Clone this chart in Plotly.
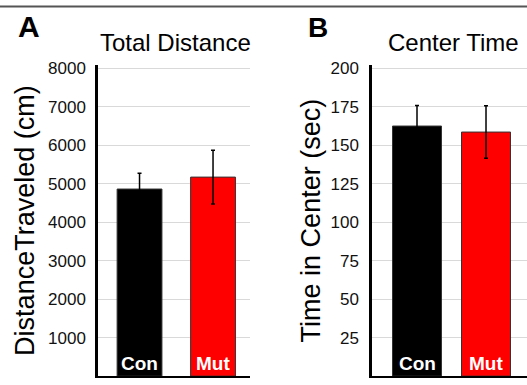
import plotly.graph_objects as go

groups = ["Con", "Mut"]
distance_mean = [4860, 5170]
distance_err = [410, 700]
center_mean = [162.4, 158.5]
center_err = [13.4, 17.0]
bar_colors = ["#000000", "#ff0000"]
distance_ticks = [1000, 2000, 3000, 4000, 5000, 6000, 7000, 8000]
center_ticks = [25, 50, 75, 100, 125, 150, 175, 200]

W, H = 527, 385
FONT = "Liberation Sans, Arial, sans-serif"

fig = go.Figure()
fig.add_trace(go.Bar(x=groups, y=distance_mean, marker=dict(color=bar_colors, line=dict(color="#333", width=1)),
                     width=0.61,
                     error_y=dict(type="data", array=distance_err, color="#000", thickness=1.5, width=2),
                     xaxis="x", yaxis="y", showlegend=False))
fig.add_trace(go.Bar(x=groups, y=center_mean, marker=dict(color=bar_colors, line=dict(color="#333", width=1)),
                     width=0.71,
                     error_y=dict(type="data", array=center_err, color="#000", thickness=1.5, width=2),
                     xaxis="x2", yaxis="y2", showlegend=False))

def py(p):
    return (H - p) / H

def px(p):
    return p / W

ax_common = dict(showgrid=False, showline=True, linecolor="#000", linewidth=2, ticks="",
                 showticklabels=False, fixedrange=True)
fig.update_layout(
    width=W, height=H, margin=dict(l=0, r=0, t=0, b=0),
    paper_bgcolor="white", plot_bgcolor="white",
    font=dict(family=FONT, color="#111"),
    xaxis=dict(domain=[px(98), px(250)], range=[-0.565, 1.503], anchor="y", **ax_common),
    yaxis=dict(domain=[py(376), py(60)], range=[0, 8080], anchor="x",
               showline=True, linecolor="#000", linewidth=2.5, ticks="",
               tickvals=distance_ticks, ticktext=[str(t) for t in distance_ticks],
               tickfont=dict(size=17, color="#111", family=FONT),
               showgrid=True, gridcolor="#d9d9d9", gridwidth=1, zeroline=False,
               ticklabelstandoff=6,
               title=dict(text="DistanceTraveled (cm)", font=dict(size=27, color="#000", family=FONT), standoff=6)),
    xaxis2=dict(domain=[px(372), 1.0], range=[-0.652, 1.594], anchor="y2", **ax_common),
    yaxis2=dict(domain=[py(376), py(60)], range=[0, 202], anchor="x2",
                showline=True, linecolor="#000", linewidth=2.5, ticks="",
                tickvals=center_ticks, ticktext=[str(t) for t in center_ticks],
                tickfont=dict(size=17, color="#111", family=FONT),
                showgrid=True, gridcolor="#d9d9d9", gridwidth=1, zeroline=False,
                ticklabelstandoff=7,
                title=dict(text="Time in Center (sec)", font=dict(size=27, color="#000", family=FONT), standoff=3)),
)

ann = []
for xa, ya in [("x", "y"), ("x2", "y2")]:
    for g in groups:
        ann.append(dict(x=g, y=0, xref=xa, yref=ya, text="<b>%s</b>" % g, showarrow=False,
                        yanchor="bottom", yshift=0, font=dict(size=19, color="white", family=FONT)))
ann.append(dict(x=px(175), y=py(37), xref="paper", yref="paper", text="Total Distance", showarrow=False,
                font=dict(size=24, color="#000", family=FONT), xanchor="center", yanchor="middle"))
ann.append(dict(x=px(453), y=py(37), xref="paper", yref="paper", text="Center Time", showarrow=False,
                font=dict(size=24, color="#000", family=FONT), xanchor="center", yanchor="middle"))
ann.append(dict(x=px(29), y=py(21), xref="paper", yref="paper", text="<b>A</b>", showarrow=False,
                font=dict(size=30, color="#000", family=FONT), xanchor="center", yanchor="middle"))
ann.append(dict(x=px(318), y=py(22), xref="paper", yref="paper", text="<b>B</b>", showarrow=False,
                font=dict(size=28, color="#000", family=FONT), xanchor="center", yanchor="middle"))
fig.update_layout(annotations=ann)
fig.add_shape(type="line", xref="paper", yref="paper", x0=0, x1=1, y0=py(0.5), y1=py(0.5),
              line=dict(color="#555", width=2))

fig.write_html("out.html", config={"displayModeBar": False})

with open("out.html", "r", encoding="utf-8") as f:
    html = f.read()
html = html.replace("<head>", "<head><style>html,body{margin:0;padding:0;overflow:hidden;}</style>", 1)
with open("out.html", "w", encoding="utf-8") as f:
    f.write(html)
